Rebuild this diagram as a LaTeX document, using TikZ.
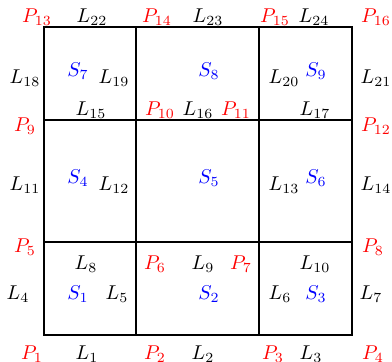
\documentclass[tikz,border=0pt]{standalone}
\usetikzlibrary{positioning}
\tikzset{
  pnt/.style={text=red, inner sep=1pt},
  edge/.style={text=black, inner sep=1pt},
  face/.style={text=blue, inner sep=1pt},
  gridline/.style={line width=1pt, draw=black},
}
\begin{document}
\begin{tikzpicture}[x=0.5pt, y=-0.5pt]
    \useasboundingbox (0,0) rectangle (392,362);
    % grid corners
    \coordinate (c1) at (44,335);   \coordinate (c2) at (136,335);
    \coordinate (c3) at (259,335);  \coordinate (c4) at (352,335);
    \coordinate (c5) at (44,242);   \coordinate (c6) at (136,242);
    \coordinate (c7) at (259,242);  \coordinate (c8) at (352,242);
    \coordinate (c9) at (44,120);   \coordinate (c10) at (136,120);
    \coordinate (c11) at (259,120); \coordinate (c12) at (352,120);
    \coordinate (c13) at (44,27);   \coordinate (c14) at (136,27);
    \coordinate (c15) at (259,27);  \coordinate (c16) at (352,27);
    \draw[gridline] (c1) rectangle (c16);
    \draw[gridline] (c5) -- (c8);
    \draw[gridline] (c9) -- (c12);
    \draw[gridline] (c2) -- (c14);
    \draw[gridline] (c3) -- (c15);
    % points
    \node[pnt] (p1) at (32,354) {$P_1$};
    \node[pnt] (p2) at (155,354) {$P_2$};
    \node[pnt] (p3) at (273,354) {$P_3$};
    \node[pnt] (p4) at (373,354) {$P_4$};
    \node[pnt] (p5) at (25,247) {$P_5$};
    \node[pnt] (p6) at (155,264) {$P_6$};
    \node[pnt] (p7) at (241,264) {$P_7$};
    \node[pnt] (p8) at (373,247) {$P_8$};
    \node[pnt] (p9) at (25,126) {$P_9$};
    \node[pnt] (p10) at (160,110) {$P_{10}$};
    \node[pnt] (p11) at (236,110) {$P_{11}$};
    \node[pnt] (p12) at (376,126) {$P_{12}$};
    \node[pnt] (p13) at (37,17) {$P_{13}$};
    \node[pnt] (p14) at (157,17) {$P_{14}$};
    \node[pnt] (p15) at (275,17) {$P_{15}$};
    \node[pnt] (p16) at (376,17) {$P_{16}$};
    % edges
    \node[edge] (l1) at (87,354) {$L_1$};
    \node[edge] (l2) at (203,354) {$L_2$};
    \node[edge] (l3) at (311,354) {$L_3$};
    \node[edge] (l4) at (18,294) {$L_4$};
    \node[edge] (l5) at (117,294) {$L_5$};
    \node[edge] (l6) at (280,294) {$L_6$};
    \node[edge] (l7) at (371,294) {$L_7$};
    \node[edge] (l8) at (86,264) {$L_8$};
    \node[edge] (l9) at (203,264) {$L_9$};
    \node[edge] (l10) at (315,264) {$L_{10}$};
    \node[edge] (l11) at (25,185) {$L_{11}$};
    \node[edge] (l12) at (114,185) {$L_{12}$};
    \node[edge] (l13) at (284,185) {$L_{13}$};
    \node[edge] (l14) at (376,185) {$L_{14}$};
    \node[edge] (l15) at (91,110) {$L_{15}$};
    \node[edge] (l16) at (198,110) {$L_{16}$};
    \node[edge] (l17) at (315,110) {$L_{17}$};
    \node[edge] (l18) at (25,78) {$L_{18}$};
    \node[edge] (l19) at (114,78) {$L_{19}$};
    \node[edge] (l20) at (284,78) {$L_{20}$};
    \node[edge] (l21) at (376,78) {$L_{21}$};
    \node[edge] (l22) at (92,17) {$L_{22}$};
    \node[edge] (l23) at (208,17) {$L_{23}$};
    \node[edge] (l24) at (314,17) {$L_{24}$};
    % faces
    \node[face] (s1) at (78,294) {$S_1$};
    \node[face] (s2) at (209,294) {$S_2$};
    \node[face] (s3) at (316,294) {$S_3$};
    \node[face] (s4) at (78,178) {$S_4$};
    \node[face] (s5) at (209,178) {$S_5$};
    \node[face] (s6) at (316,178) {$S_6$};
    \node[face] (s7) at (78,71) {$S_7$};
    \node[face] (s8) at (209,71) {$S_8$};
    \node[face] (s9) at (316,71) {$S_9$};
\end{tikzpicture}
\end{document}
